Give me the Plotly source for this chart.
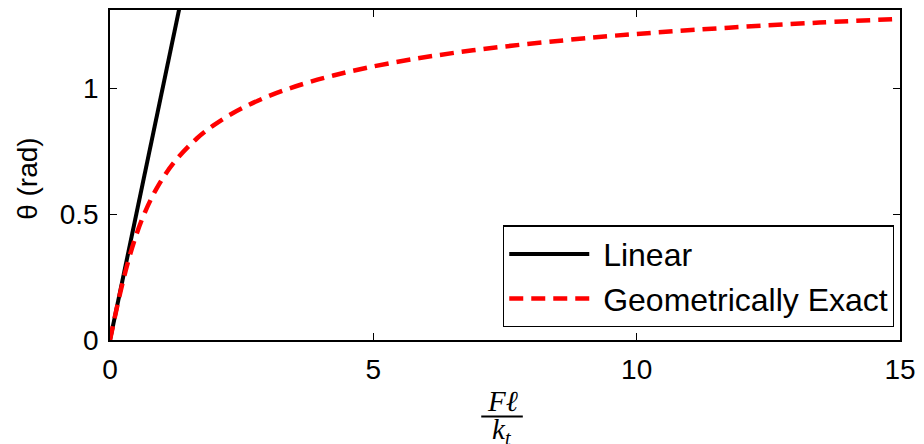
import plotly.graph_objects as go

# Normalised load F*l/k_t and the rotation it produces
linear_load = [0.0, 1.4]
linear_theta = [0.0, 1.4]

exact_load = [0.0, 0.101, 0.208, 0.329, 0.471, 0.649, 0.881, 1.197, 1.648,
              1.951, 2.329, 2.807, 3.426, 4.241, 5.346, 6.891, 9.137,
              10.33, 11.75, 13.47, 15.0]
exact_theta = [0.0, 0.1, 0.2, 0.3, 0.4, 0.5, 0.6, 0.7, 0.8,
               0.85, 0.9, 0.95, 1.0, 1.05, 1.1, 1.15, 1.2,
               1.22, 1.24, 1.26, 1.275]

x_ticks = [0, 5, 10, 15]
y_ticks = [0, 0.5, 1]
y_tick_text = ["0", "0.5", "1"]

FONT = "Liberation Sans, Arial, sans-serif"
SERIF = "Liberation Serif, DejaVu Serif, serif"

# plot area in pixels, used to place the fraction-style x label
L, R, T, B = 110, 908, 8, 340
W, H = R - L, B - T


def px(x):
    return (x - L) / W


def py(y):
    return (B - y) / H


fig = go.Figure()
fig.add_trace(go.Scatter(
    x=linear_load, y=linear_theta, mode="lines", name=" Linear",
    line=dict(color="black", width=4),
))
fig.add_trace(go.Scatter(
    x=exact_load, y=exact_theta, mode="lines", name=" Geometrically Exact",
    line_shape="spline",
    line=dict(color="#ff0000", width=4.5, dash="14px,8px"),
))

axis_common = dict(
    showgrid=False, zeroline=False, showline=True, linecolor="black",
    linewidth=1.5, mirror="ticks", ticks="inside", ticklen=7,
    tickcolor="black", tickwidth=1,
    tickfont=dict(family=FONT, size=28, color="black"),
)

fig.update_layout(
    width=924, height=444,
    margin=dict(l=L, r=924 - R, t=T, b=444 - B),
    plot_bgcolor="white", paper_bgcolor="white",
    xaxis=dict(range=[0, 15], tickvals=x_ticks, ticklabelstandoff=4,
               **axis_common),
    yaxis=dict(range=[0, 1.31], tickvals=y_ticks, ticktext=y_tick_text,
               ticklabelstandoff=4, **axis_common),
    showlegend=True,
    legend=dict(
        x=px(902), y=py(276), xanchor="right", yanchor="middle",
        bgcolor="white", bordercolor="black", borderwidth=1.2,
        font=dict(family=FONT, size=32, color="black"),
        itemwidth=80,
    ),
    annotations=[
        dict(text="θ (rad)", xref="paper", yref="paper", x=px(27), y=py(178),
             textangle=-90, showarrow=False, xanchor="center",
             yanchor="middle",
             font=dict(family=FONT, size=28, color="black")),
        dict(text="<i>Fℓ</i>", xref="paper", yref="paper",
             x=px(506), y=py(401), showarrow=False,
             xanchor="center", yanchor="middle",
             font=dict(family=SERIF, size=29, color="black")),
        dict(text="<i>k<sub>t</sub></i>", xref="paper", yref="paper",
             x=px(506), y=py(432), showarrow=False,
             xanchor="center", yanchor="middle",
             font=dict(family=SERIF, size=29, color="black")),
    ],
    shapes=[
        dict(type="line", xref="paper", yref="paper",
             x0=px(485), x1=px(527), y0=py(417), y1=py(417),
             line=dict(color="black", width=2)),
    ],
)

fig.write_html("out.html")
